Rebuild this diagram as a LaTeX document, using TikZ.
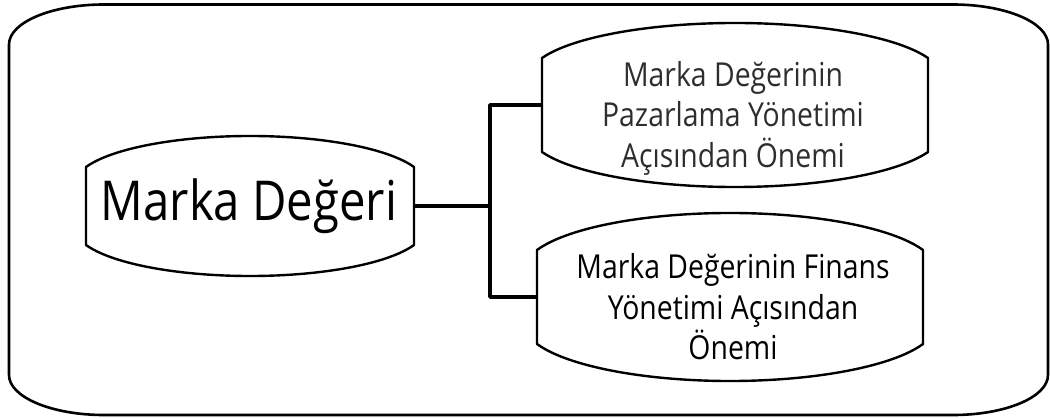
\documentclass[tikz,border=0pt]{standalone}
\usepackage{fontspec}
\setmainfont{Open Sans}[FakeStretch=0.86]
\begin{document}
\begin{tikzpicture}[x=1pt,y=1pt,line join=round,
  frameline/.style={line width=2.6pt,black},
  shapeline/.style={line width=2.4pt,black},
  conn/.style={line width=3.4pt,black},
  anchorbox/.style={rectangle,inner sep=0pt,outer sep=0pt},
  bigtext/.style={font=\fontsize{55}{66}\selectfont,text=black},
  smalltext/.style={font=\fontsize{33}{40.5}\selectfont,align=center}]
\useasboundingbox (0,0) rectangle (1050,418);

% outer frame with elliptical corners
\draw[frameline] (104,413.5) -- (953,413.5)
  arc[start angle=90,end angle=0,x radius=95,y radius=40] -- (1048,43)
  arc[start angle=0,end angle=-90,x radius=95,y radius=40] -- (104,3)
  arc[start angle=-90,end angle=-180,x radius=95,y radius=40] -- (9,373.5)
  arc[start angle=180,end angle=90,x radius=95,y radius=40] -- cycle;

% outline of a box with straight sides and bulging top and bottom
% #1 node name, #2 half width, #3 straight half height, #4 cap height
\newcommand\bulgebox[4]{%
  \pgfmathsetmacro\capT{acos(1/1.07)}%
  \pgfmathsetmacro\rxx{#2*1.07}%
  \pgfmathsetmacro\ryy{#4/(1-sin(\capT))}%
  \draw[shapeline] ([yshift=#3]#1.west)
    arc[start angle=180-\capT,end angle=\capT,x radius=\rxx,y radius=\ryy]
    -- ([yshift=-#3]#1.east)
    arc[start angle=-\capT,end angle=-180+\capT,x radius=\rxx,y radius=\ryy]
    -- cycle;}

% boxes (straight-sided part)
\node[anchorbox,minimum width=328,minimum height=78] (A) at (250,212) {};
\node[anchorbox,minimum width=386,minimum height=94] (B) at (735,313) {};
\node[anchorbox,minimum width=386,minimum height=94] (C) at (730,121) {};

\bulgebox{A}{164}{39}{31}
\bulgebox{B}{193}{47}{35}
\bulgebox{C}{193}{47}{37}

% texts
\node[bigtext] (At) at (249,212) {Marka Değeri};
\node[smalltext,text=black!82] (Bt) at (733,300) {Marka Değerinin\\Pazarlama Yönetimi\\Açısından Önemi};
\node[smalltext,text=black] (Ct) at (733,111) {Marka Değerinin Finans\\Yönetimi Açısından\\Önemi};

% connectors
\coordinate (J) at (490,212);
\draw[conn] (A.east) -- (J);
\draw[conn] (B.west) -| (J) |- (C.west);
\end{tikzpicture}
\end{document}
